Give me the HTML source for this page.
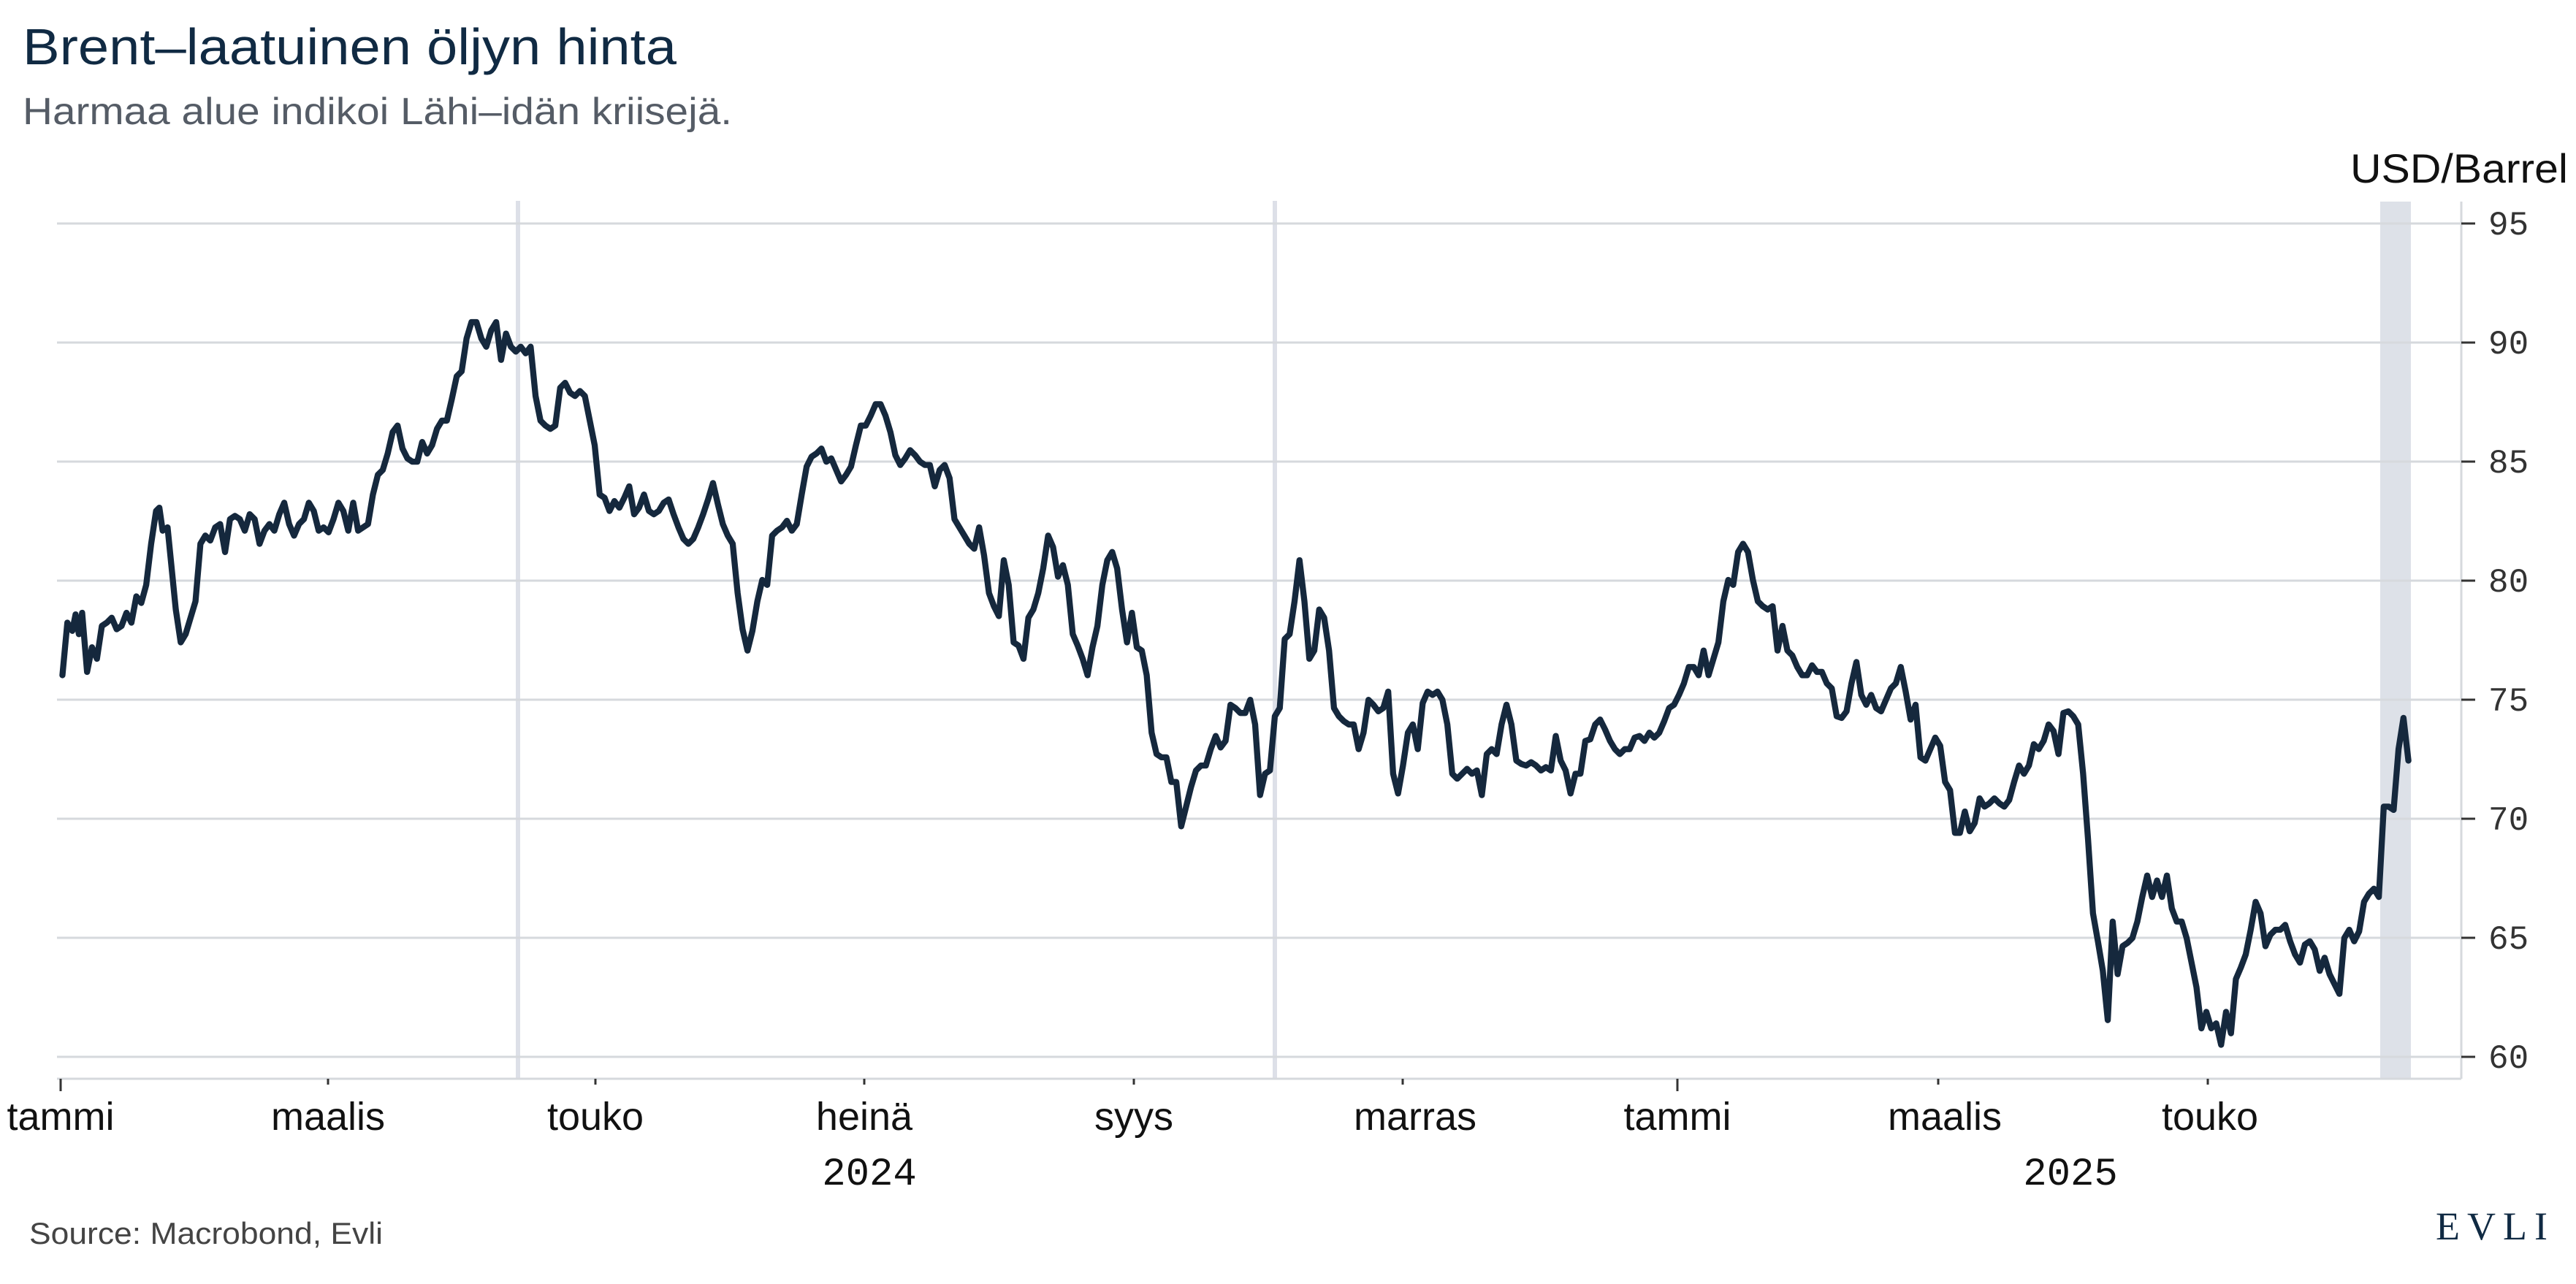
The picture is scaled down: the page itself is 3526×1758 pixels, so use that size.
<!DOCTYPE html>
<html><head><meta charset="utf-8"><style>
html,body{margin:0;padding:0;background:#fff;}
svg{display:block;}
</style></head><body>
<svg width="3526" height="1758" viewBox="0 0 3526 1758" xmlns="http://www.w3.org/2000/svg">
<rect width="3526" height="1758" fill="#fff"/>
<text x="31" y="88" font-family="Liberation Sans, sans-serif" font-size="70" fill="#102a43" textLength="895" lengthAdjust="spacingAndGlyphs">Brent–laatuinen öljyn hinta</text>
<text x="31" y="170" font-family="Liberation Sans, sans-serif" font-size="52" fill="#555c66" textLength="971" lengthAdjust="spacingAndGlyphs">Harmaa alue indikoi Lähi–idän kriisejä.</text>
<text x="3515" y="250" text-anchor="end" font-family="Liberation Sans, sans-serif" font-size="56" fill="#111" textLength="298" lengthAdjust="spacingAndGlyphs">USD/Barrel</text>
<rect x="3258" y="276" width="42" height="1201" fill="#dde1e8"/>
<rect x="706" y="275" width="6" height="1202" fill="#dde0e8"/>
<rect x="1742" y="275" width="6" height="1202" fill="#dde0e8"/>
<g stroke="#d6d9dd" stroke-width="3">
<line x1="78" x2="3369" y1="306" y2="306"/>
<line x1="78" x2="3369" y1="469" y2="469"/>
<line x1="78" x2="3369" y1="632" y2="632"/>
<line x1="78" x2="3369" y1="795" y2="795"/>
<line x1="78" x2="3369" y1="958" y2="958"/>
<line x1="78" x2="3369" y1="1121" y2="1121"/>
<line x1="78" x2="3369" y1="1284" y2="1284"/>
<line x1="78" x2="3369" y1="1447" y2="1447"/>
<line x1="78" x2="3369" y1="1477" y2="1477"/>
<line x1="3369" x2="3369" y1="276" y2="1477"/>
</g>
<g stroke="#333" stroke-width="3">
<line x1="3369" x2="3388" y1="306" y2="306"/>
<line x1="3369" x2="3388" y1="469" y2="469"/>
<line x1="3369" x2="3388" y1="632" y2="632"/>
<line x1="3369" x2="3388" y1="795" y2="795"/>
<line x1="3369" x2="3388" y1="958" y2="958"/>
<line x1="3369" x2="3388" y1="1121" y2="1121"/>
<line x1="3369" x2="3388" y1="1284" y2="1284"/>
<line x1="3369" x2="3388" y1="1447" y2="1447"/>
<line x1="83" x2="83" y1="1477" y2="1494"/>
<line x1="449" x2="449" y1="1477" y2="1485"/>
<line x1="815" x2="815" y1="1477" y2="1485"/>
<line x1="1183" x2="1183" y1="1477" y2="1485"/>
<line x1="1552" x2="1552" y1="1477" y2="1485"/>
<line x1="1920" x2="1920" y1="1477" y2="1485"/>
<line x1="2296" x2="2296" y1="1477" y2="1494"/>
<line x1="2653" x2="2653" y1="1477" y2="1485"/>
<line x1="3022" x2="3022" y1="1477" y2="1485"/>
</g>
<g font-family="Liberation Mono, monospace" font-size="46" fill="#333">
<text x="3406" y="321">95</text>
<text x="3406" y="484">90</text>
<text x="3406" y="647">85</text>
<text x="3406" y="810">80</text>
<text x="3406" y="973">75</text>
<text x="3406" y="1136">70</text>
<text x="3406" y="1299">65</text>
<text x="3406" y="1462">60</text>
</g>
<g font-family="Liberation Sans, sans-serif" font-size="54" fill="#111" text-anchor="middle">
<text x="83" y="1547">tammi</text>
<text x="449" y="1547">maalis</text>
<text x="815" y="1547">touko</text>
<text x="1183" y="1547">heinä</text>
<text x="1552" y="1547">syys</text>
<text x="1937" y="1547">marras</text>
<text x="2296" y="1547">tammi</text>
<text x="2662" y="1547">maalis</text>
<text x="3025" y="1547">touko</text>
</g>
<g font-family="Liberation Mono, monospace" font-size="54" fill="#111" text-anchor="middle">
<text x="1190" y="1622">2024</text>
<text x="2834" y="1622">2025</text>
</g>
<text x="40" y="1703" font-family="Liberation Sans, sans-serif" font-size="42" fill="#444" textLength="484" lengthAdjust="spacingAndGlyphs">Source: Macrobond, Evli</text>
<text x="3497" y="1697" text-anchor="end" font-family="Liberation Serif, serif" font-size="54" fill="#102a43" letter-spacing="10">EVLI</text>
<g transform="translate(0,2.5) scale(2.2487)">
<polyline fill="none" stroke="#15283d" stroke-width="3.7" stroke-linejoin="round" stroke-linecap="round" points="38,410 41,378 44,383 46,373 48,385 50,372 53,408 56,393 59,400 62,380 65,378 68,375 71,382 74,380 77,372 80,378 83,362 86,366 89,355 92,330 95,310 97,308 99,322 102,320 104,340 107,370 110,390 113,385 116,375 119,365 122,330 125,325 128,328 131,320 134,318 137,335 140,315 143,313 146,315 149,322 152,312 155,315 158,330 161,322 164,318 167,322 170,312 173,305 176,318 179,325 182,318 185,315 188,305 191,310 194,322 197,320 200,323 203,315 206,305 209,310 212,322 215,305 218,322 221,320 224,318 227,300 230,288 233,285 236,275 239,262 242,258 245,272 248,278 251,280 254,280 257,268 260,275 263,270 266,260 269,255 272,255 275,242 278,228 281,225 284,205 287,195 290,195 293,205 296,210 299,200 302,195 305,218 308,202 311,210 314,213 317,210 320,214 323,210 326,240 329,255 332,258 335,260 338,258 341,235 344,232 347,238 350,240 353,237 356,240 359,255 362,270 365,300 368,302 371,310 374,304 377,308 380,302 383,295 386,312 389,308 392,300 395,310 398,312 401,310 404,305 407,303 410,312 413,320 416,327 419,330 422,327 425,320 428,312 431,303 434,293 437,306 440,318 443,325 446,330 449,360 452,382 455,395 458,383 461,365 464,352 467,355 470,325 473,322 476,320 479,316 482,322 485,318 488,300 491,283 494,277 497,275 500,272 503,280 506,278 509,285 512,292 515,288 518,283 521,270 524,258 527,258 530,252 533,245 536,245 539,252 542,262 545,276 548,282 551,278 554,273 557,276 560,280 563,282 566,282 569,295 572,285 575,282 578,290 581,315 584,320 587,325 590,330 593,333 596,320 599,337 602,360 605,368 608,374 611,340 614,355 617,390 620,392 623,400 626,375 629,370 632,360 635,345 638,325 641,332 644,350 647,343 650,355 653,385 656,392 659,400 662,410 665,393 668,380 671,355 674,340 677,335 680,345 683,370 686,390 689,372 692,393 695,395 698,410 701,445 704,458 707,460 710,460 713,475 716,475 719,502 722,490 725,478 728,468 731,465 734,465 737,455 740,447 743,454 746,450 749,428 752,430 755,433 758,433 761,425 764,440 767,483 770,470 773,468 776,435 779,430 782,388 785,385 788,365 791,340 794,365 797,400 800,395 803,370 806,375 809,395 812,430 815,435 818,438 821,440 824,440 827,455 830,445 833,425 836,428 839,432 842,430 845,420 848,470 851,482 854,465 857,445 860,440 863,455 866,427 869,420 872,422 875,420 878,425 881,440 884,470 887,473 890,470 893,467 896,470 899,468 902,483 905,458 908,455 911,458 914,440 917,428 920,440 923,462 926,464 929,465 932,463 935,465 938,468 941,466 944,468 947,447 950,462 953,468 956,482 959,470 962,470 965,450 968,449 971,440 974,437 977,443 980,450 983,455 986,458 989,455 992,455 995,448 998,447 1001,450 1004,445 1007,448 1010,445 1013,438 1016,430 1019,428 1022,422 1025,415 1028,405 1031,405 1034,410 1037,395 1040,410 1043,400 1046,390 1049,365 1052,352 1055,355 1058,335 1061,330 1064,335 1067,352 1070,365 1073,368 1076,370 1079,368 1082,395 1085,380 1088,395 1091,398 1094,405 1097,410 1100,410 1103,404 1106,408 1109,408 1112,415 1115,418 1118,435 1121,436 1124,432 1127,415 1130,402 1133,422 1136,428 1139,422 1142,430 1145,432 1148,425 1151,418 1154,415 1157,405 1160,420 1163,437 1166,428 1169,460 1172,462 1175,455 1178,448 1181,453 1184,475 1187,480 1190,506 1193,506 1196,493 1199,505 1202,500 1205,485 1208,490 1211,488 1214,485 1217,488 1220,490 1223,486 1226,475 1229,465 1232,470 1235,465 1238,452 1241,455 1244,450 1247,440 1250,444 1253,458 1256,433 1259,432 1262,435 1265,440 1268,470 1271,510 1274,555 1277,572 1280,590 1283,620 1286,560 1289,592 1292,575 1295,573 1298,570 1301,560 1304,545 1307,532 1310,545 1313,535 1316,545 1319,532 1322,552 1325,560 1328,560 1331,570 1334,585 1337,600 1340,625 1343,615 1346,625 1349,622 1352,635 1355,615 1358,628 1361,595 1364,588 1367,580 1370,565 1373,548 1376,555 1379,575 1382,568 1385,565 1388,565 1391,562 1394,572 1397,580 1400,585 1403,574 1406,572 1409,577 1412,590 1415,582 1418,592 1421,598 1424,604 1427,570 1430,565 1433,572 1436,566 1439,548 1442,543 1445,540 1448,545 1451,490 1454,490 1457,492 1460,455 1463,436 1466,462"/>
</g>
</svg>
</body></html>
